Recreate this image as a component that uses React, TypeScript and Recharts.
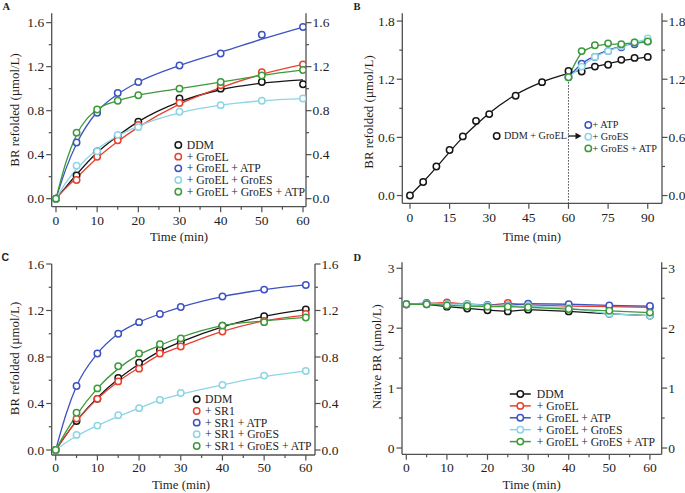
import React from 'react';
import { ComposedChart, Line, XAxis, YAxis, ReferenceLine } from 'recharts';

const FONT = '"Liberation Serif", "Times New Roman", serif';
const AXC = '#505050';
const TC = '#1e1e1e';
const BLACK = '#161616';
const RED = '#e9412f';
const BLUE = '#3e53c2';
const CYAN = '#8dd5e5';
const GREEN = '#3c9a3b';
const COLORS = [BLACK, RED, BLUE, CYAN, GREEN];

// ---------- Panel A ----------
const aTimes = [0, 5, 10, 15, 20, 30, 40, 50, 60];
const aDDM = [0, 0.21, 0.43, 0.57, 0.7, 0.91, 1.0, 1.06, 1.04];
const aGroEL = [0, 0.17, 0.38, 0.53, 0.67, 0.87, 1.03, 1.15, 1.22];
const aGroELATP = [0, 0.51, 0.78, 0.96, 1.06, 1.21, 1.32, 1.49, 1.56];
const aGroELGroES = [0, 0.3, 0.43, 0.58, 0.65, 0.79, 0.85, 0.89, 0.91];
const aGroELGroESATP = [0, 0.6, 0.81, 0.89, 0.94, 1.0, 1.06, 1.12, 1.17];
const aFitTimes = [0, 2.5, 5, 10, 15, 20, 30, 40, 50, 60];
const aFitDDM = [0, 0.11, 0.22, 0.42, 0.57, 0.7, 0.88, 0.99, 1.05, 1.08];
const aFitGroEL = [0, 0.1, 0.19, 0.37, 0.52, 0.65, 0.86, 1.01, 1.13, 1.22];
const aFitGroELATP = [0, 0.28, 0.5, 0.79, 0.95, 1.06, 1.21, 1.33, 1.45, 1.56];
const aFitGroELGroES = [0, 0.15, 0.27, 0.45, 0.57, 0.66, 0.78, 0.85, 0.89, 0.91];
const aFitGroELGroESATP = [0, 0.34, 0.58, 0.81, 0.89, 0.94, 1.0, 1.06, 1.12, 1.17];
const aLabels = ['DDM', '+ GroEL', '+ GroEL + ATP', '+ GroEL + GroES', '+ GroEL + GroES + ATP'];

// ---------- Panel B ----------
const bTimes = [0, 5, 10, 15, 20, 25, 30, 40, 50, 60, 65, 70, 75, 80, 85, 90];
const bDDMGroEL = [0, 0.14, 0.3, 0.47, 0.61, 0.77, 0.84, 1.03, 1.17, 1.285, 1.28, 1.33, 1.35, 1.4, 1.42, 1.43];
const bFitDDMGroEL = [0, 0.14, 0.29, 0.45, 0.6, 0.73, 0.85, 1.04, 1.17, 1.26, 1.3, 1.33, 1.36, 1.39, 1.41, 1.43];
const bAddTimes = [60, 65, 70, 75, 80, 85, 90];
const bATP = [1.22, 1.36, 1.43, 1.49, 1.53, 1.56, 1.59];
const bGroES = [1.22, 1.33, 1.43, 1.49, 1.54, 1.58, 1.62];
const bGroESATP = [1.22, 1.49, 1.55, 1.57, 1.56, 1.58, 1.59];
const bFitATP = [1.22, 1.36, 1.44, 1.5, 1.54, 1.57, 1.59];
const bFitGroES = [1.22, 1.33, 1.43, 1.49, 1.54, 1.58, 1.61];
const bFitGroESATP = [1.22, 1.47, 1.54, 1.56, 1.565, 1.575, 1.58];
const bLabels = ['+ ATP', '+ GroES', '+ GroES + ATP'];
const bBaseLabel = 'DDM + GroEL';

// ---------- Panel C ----------
const cTimes = [0, 5, 10, 15, 20, 25, 30, 40, 50, 60];
const cDDM = [0, 0.25, 0.44, 0.62, 0.75, 0.86, 0.93, 1.07, 1.15, 1.21];
const cSR1 = [0, 0.27, 0.44, 0.59, 0.7, 0.83, 0.89, 1.02, 1.11, 1.17];
const cSR1ATP = [0, 0.55, 0.83, 1.0, 1.1, 1.17, 1.23, 1.32, 1.38, 1.42];
const cSR1GroES = [0, 0.13, 0.21, 0.3, 0.36, 0.43, 0.49, 0.56, 0.64, 0.68];
const cSR1GroESATP = [0, 0.32, 0.53, 0.72, 0.83, 0.91, 0.96, 1.07, 1.1, 1.14];
const cFitTimes = [0, 2.5, 5, 10, 15, 20, 25, 30, 40, 50, 60];
const cFitDDM = [0, 0.13, 0.25, 0.45, 0.61, 0.74, 0.85, 0.93, 1.06, 1.15, 1.21];
const cFitSR1 = [0, 0.13, 0.25, 0.44, 0.59, 0.71, 0.82, 0.89, 1.02, 1.11, 1.16];
const cFitSR1ATP = [0, 0.31, 0.55, 0.83, 1.0, 1.1, 1.17, 1.23, 1.32, 1.38, 1.42];
const cFitSR1GroES = [0, 0.065, 0.12, 0.21, 0.29, 0.36, 0.43, 0.48, 0.56, 0.63, 0.68];
const cFitSR1GroESATP = [0, 0.16, 0.3, 0.53, 0.7, 0.82, 0.9, 0.97, 1.07, 1.11, 1.14];
const cLabels = ['DDM', '+ SR1', '+ SR1 + ATP', '+ SR1 + GroES', '+ SR1 + GroES + ATP'];

// ---------- Panel D ----------
const dTimes = [0, 5, 10, 15, 20, 25, 30, 40, 50, 60];
const dDDM = [2.4, 2.4, 2.36, 2.33, 2.3, 2.28, 2.31, 2.28, 2.24, 2.21];
const dGroEL = [2.4, 2.41, 2.43, 2.4, 2.38, 2.42, 2.39, 2.37, 2.36, 2.35];
const dGroELATP = [2.4, 2.42, 2.4, 2.4, 2.39, 2.38, 2.41, 2.4, 2.38, 2.37];
const dGroELGroES = [2.4, 2.41, 2.4, 2.4, 2.38, 2.37, 2.37, 2.34, 2.24, 2.21];
const dGroELGroESATP = [2.4, 2.4, 2.38, 2.37, 2.36, 2.36, 2.35, 2.32, 2.29, 2.26];
const dLabels = ['DDM', '+ GroEL', '+ GroEL + ATP', '+ GroEL + GroES', '+ GroEL + GroES + ATP'];

// ---------- ticks ----------
const tA_x = [0, 5, 10, 15, 20, 25, 30, 35, 40, 45, 50, 55, 60];
const tA_xMajor = [0, 10, 20, 30, 40, 50, 60];
const tA_y = [0, 0.2, 0.4, 0.6, 0.8, 1.0, 1.2, 1.4, 1.6];
const tA_yMajor = [0, 0.4, 0.8, 1.2, 1.6];
const tB_x = [0, 15, 30, 45, 60, 75, 90];
const tB_y = [0, 0.3, 0.6, 0.9, 1.2, 1.5, 1.8];
const tB_yMajor = [0, 0.6, 1.2, 1.8];
const tD_y = [0, 0.5, 1, 1.5, 2, 2.5, 3];
const tD_yMajor = [0, 1, 2, 3];

type Row = { t: number; [k: string]: number };
function buildRows(groups: { times: number[]; series: Record<string, number[]> }[]): Row[] {
  const map = new Map<number, Row>();
  groups.forEach((g) => {
    g.times.forEach((t, i) => {
      const r: Row = map.get(t) ?? { t };
      Object.keys(g.series).forEach((k) => {
        const v = g.series[k][i];
        if (v !== undefined && v !== null) r[k] = v;
      });
      map.set(t, r);
    });
  });
  return Array.from(map.values()).sort((a, b) => a.t - b.t);
}

const rowsA = buildRows([
  { times: aTimes, series: { p0: aDDM, p1: aGroEL, p2: aGroELATP, p3: aGroELGroES, p4: aGroELGroESATP } },
  { times: aFitTimes, series: { f0: aFitDDM, f1: aFitGroEL, f2: aFitGroELATP, f3: aFitGroELGroES, f4: aFitGroELGroESATP } },
]);
const rowsB = buildRows([
  { times: bTimes, series: { p0: bDDMGroEL, f0: bFitDDMGroEL } },
  { times: bAddTimes, series: { p2: bATP, p3: bGroES, p4: bGroESATP, f2: bFitATP, f3: bFitGroES, f4: bFitGroESATP } },
]);
const rowsC = buildRows([
  { times: cTimes, series: { p0: cDDM, p1: cSR1, p2: cSR1ATP, p3: cSR1GroES, p4: cSR1GroESATP } },
  { times: cFitTimes, series: { f0: cFitDDM, f1: cFitSR1, f2: cFitSR1ATP, f3: cFitSR1GroES, f4: cFitSR1GroESATP } },
]);
const rowsD = buildRows([
  { times: dTimes, series: { p0: dDDM, p1: dGroEL, p2: dGroELATP, p3: dGroELGroES, p4: dGroELGroESATP } },
]);

const isMaj = (m: number[], v: number) => m.some((x) => Math.abs(x - v) < 1e-6);
const TICK_FS = 13.5;

function leftTick(majors: number[], fmt: (v: number) => string) {
  return (p: any) => {
    const v = p.payload.value;
    const maj = isMaj(majors, v);
    const len = maj ? 5.5 : 3;
    return (
      <g>
        <line x1={p.x} x2={p.x - len} y1={p.y} y2={p.y} stroke={AXC} strokeWidth={1.2} />
        {maj && (
          <text x={p.x - 7.5} y={p.y} dy="0.34em" textAnchor="end" fontFamily={FONT} fontSize={TICK_FS} fill={TC}>
            {fmt(v)}
          </text>
        )}
      </g>
    );
  };
}
function rightTick(majors: number[], fmt: (v: number) => string) {
  return (p: any) => {
    const v = p.payload.value;
    const maj = isMaj(majors, v);
    const len = maj ? 5.5 : 3;
    return (
      <g>
        <line x1={p.x} x2={p.x + len} y1={p.y} y2={p.y} stroke={AXC} strokeWidth={1.2} />
        {maj && (
          <text x={p.x + 6.5} y={p.y} dy="0.34em" textAnchor="start" fontFamily={FONT} fontSize={TICK_FS} fill={TC}>
            {fmt(v)}
          </text>
        )}
      </g>
    );
  };
}
function bottomTick(majors: number[], dy: number) {
  return (p: any) => {
    const v = p.payload.value;
    const maj = isMaj(majors, v);
    const len = maj ? 5.5 : 3;
    return (
      <g>
        <line x1={p.x} x2={p.x} y1={p.y} y2={p.y + len} stroke={AXC} strokeWidth={1.2} />
        {maj && (
          <text x={p.x} y={p.y + dy} dy="0.34em" textAnchor="middle" fontFamily={FONT} fontSize={TICK_FS} fill={TC}>
            {String(v)}
          </text>
        )}
      </g>
    );
  };
}

const f1 = (v: number) => v.toFixed(1);
const f0 = (v: number) => String(v);

interface PanelProps {
  left: number; top: number; width: number; height: number;
  plotL: number; plotR: number; plotT: number; plotB: number;
  rows: Row[];
  xDomain: [number, number]; yDomain: [number, number];
  xTicks: number[]; xMajor: number[];
  yTicks: number[]; yMajor: number[]; yFmt: (v: number) => string;
  idx: number[];
  fits: boolean;
  linePoints?: boolean;
  labelDy: number;
  children?: React.ReactNode;
}

function Panel(p: PanelProps) {
  return (
    <div style={{ position: 'absolute', left: p.left, top: p.top, width: p.width, height: p.height }}>
      <ComposedChart
        width={p.width}
        height={p.height}
        data={p.rows}
        margin={{ top: p.plotT, right: 0, bottom: 0, left: 0 }}
      >
        <XAxis
          dataKey="t" type="number" domain={p.xDomain} allowDataOverflow ticks={p.xTicks} interval={0}
          height={p.height - p.plotB} tickLine={false} tickSize={0} tickMargin={0}
          axisLine={{ stroke: AXC, strokeWidth: 1.3 }} tick={bottomTick(p.xMajor, p.labelDy)}
        />
        <XAxis
          xAxisId="top" orientation="top" dataKey="t" type="number" domain={p.xDomain} allowDataOverflow
          height={0} tick={false} tickLine={false} axisLine={{ stroke: AXC, strokeWidth: 1.3 }}
        />
        <YAxis
          type="number" domain={p.yDomain} allowDataOverflow ticks={p.yTicks} interval={0}
          width={p.plotL} tickLine={false} tickSize={0} tickMargin={0}
          axisLine={{ stroke: AXC, strokeWidth: 1.3 }} tick={leftTick(p.yMajor, p.yFmt)}
        />
        <YAxis
          yAxisId="right" orientation="right" type="number" domain={p.yDomain} allowDataOverflow ticks={p.yTicks} interval={0}
          width={p.width - p.plotR} tickLine={false} tickSize={0} tickMargin={0}
          axisLine={{ stroke: AXC, strokeWidth: 1.3 }} tick={rightTick(p.yMajor, p.yFmt)}
        />
        {p.children}
        {p.fits &&
          p.idx.map((i) => (
            <Line
              key={'f' + i} dataKey={'f' + i} type="monotone" stroke={COLORS[i]} strokeWidth={1.3}
              dot={false} activeDot={false} connectNulls isAnimationActive={false} legendType="none"
            />
          ))}
        {p.idx.map((i) => (
          <Line
            key={'p' + i} dataKey={'p' + i} type="linear"
            stroke={p.linePoints ? COLORS[i] : 'none'} strokeWidth={1.3}
            dot={{ r: 3.2, stroke: COLORS[i], strokeWidth: 1.5, fill: '#ffffff' }}
            activeDot={false} connectNulls isAnimationActive={false}
          />
        ))}
      </ComposedChart>
    </div>
  );
}

const txt = { fontFamily: FONT, fill: TC } as const;

function Legend5({ x, y, step, labels, line }: { x: number; y: number; step: number; labels: string[]; line?: boolean }) {
  return (
    <g>
      {labels.map((lab, i) => {
        const cy = y + i * step;
        return (
          <g key={lab}>
            {line && <line x1={x - 10.5} x2={x + 10.5} y1={cy} y2={cy} stroke={COLORS[i]} strokeWidth={1.5} />}
            <circle cx={x} cy={cy} r={3.2} stroke={COLORS[i]} strokeWidth={1.5} fill="#fff" />
            <text x={x + (line ? 16.4 : 8.4)} y={cy} dy="0.34em" fontSize={11.7} {...txt}>{lab}</text>
          </g>
        );
      })}
    </g>
  );
}

export default function App() {
  const yTitle = 'BR refolded (µmol/L)';
  return (
    <div style={{ position: 'absolute', left: 0, top: 0, width: 685, height: 493, background: '#fff', overflow: 'hidden' }}>
      <Panel
        left={0} top={0} width={345} height={245} plotL={51.7} plotR={306} plotT={13.3} plotB={206.7}
        rows={rowsA} xDomain={[-1.04, 60.73]} yDomain={[-0.073, 1.685]}
        xTicks={tA_x} xMajor={tA_xMajor} yTicks={tA_y} yMajor={tA_yMajor} yFmt={f1}
        idx={[0, 1, 2, 3, 4]} fits labelDy={13.3}
      />
      <Panel
        left={345} top={0} width={340} height={245} plotL={57.3} plotR={317} plotT={13.3} plotB={203.3}
        rows={rowsB} xDomain={[-2.9, 95.4]} yDomain={[-0.08, 1.88]}
        xTicks={tB_x} xMajor={tB_x} yTicks={tB_y} yMajor={tB_yMajor} yFmt={f1}
        idx={[0, 2, 3, 4]} fits labelDy={14.5}
      >
        <ReferenceLine
          segment={[{ x: 60, y: 1.17 }, { x: 60, y: -0.08 }]}
          stroke="#333" strokeWidth={0.9} strokeDasharray="1.5 1.5" ifOverflow="visible"
        />
      </Panel>
      <Panel
        left={0} top={245} width={345} height={248} plotL={51.7} plotR={315} plotT={19} plotB={210}
        rows={rowsC} xDomain={[-0.96, 62.2]} yDomain={[-0.043, 1.6]}
        xTicks={tA_x} xMajor={tA_xMajor} yTicks={tA_y} yMajor={tA_yMajor} yFmt={f1}
        idx={[0, 1, 2, 3, 4]} fits labelDy={12}
      />
      <Panel
        left={345} top={245} width={340} height={248} plotL={57} plotR={316.7} plotT={17.3} plotB={209.3}
        rows={rowsD} xDomain={[-1.06, 62.9]} yDomain={[-0.105, 3.1]}
        xTicks={tA_x} xMajor={tA_xMajor} yTicks={tD_y} yMajor={tD_yMajor} yFmt={f0}
        idx={[0, 1, 2, 3, 4]} fits={false} linePoints labelDy={13.3}
      />
      <svg width={685} height={493} style={{ position: 'absolute', left: 0, top: 0, pointerEvents: 'none' }}>
        {/* panel letters */}
        <text x={2.5} y={10} fontSize={10.5} fontWeight="bold" {...txt}>A</text>
        <text x={353.5} y={10} fontSize={10.5} fontWeight="bold" {...txt}>B</text>
        <text x={1.5} y={261} fontSize={10.5} fontWeight="bold" fontFamily='"Liberation Sans", Arial, sans-serif' fill={TC}>C</text>
        <text x={353.5} y={261} fontSize={10.5} fontWeight="bold" {...txt}>D</text>

        {/* axis titles */}
        <text x={179} y={236.5} dy="0.34em" textAnchor="middle" fontSize={12.8} {...txt}>Time (min)</text>
        <text x={532} y={236.5} dy="0.34em" textAnchor="middle" fontSize={12.8} {...txt}>Time (min)</text>
        <text x={181} y={485} dy="0.34em" textAnchor="middle" fontSize={12.8} {...txt}>Time (min)</text>
        <text x={531.7} y={485} dy="0.34em" textAnchor="middle" fontSize={12.8} {...txt}>Time (min)</text>
        <text transform="translate(15,110) rotate(-90)" dy="0.34em" textAnchor="middle" fontSize={12.8} {...txt}>{yTitle}</text>
        <text transform="translate(368.3,112) rotate(-90)" dy="0.34em" textAnchor="middle" fontSize={12.8} {...txt}>{yTitle}</text>
        <text transform="translate(15,358.5) rotate(-90)" dy="0.34em" textAnchor="middle" fontSize={12.8} {...txt}>{yTitle}</text>
        <text transform="translate(376.7,356.5) rotate(-90)" dy="0.34em" textAnchor="middle" fontSize={12.8} {...txt}>Native BR (µmol/L)</text>

        {/* legends */}
        <Legend5 x={178.3} y={145} step={11.67} labels={aLabels} />
        <Legend5 x={196.7} y={399.3} step={11.67} labels={cLabels} />
        <Legend5 x={520.3} y={394} step={11.9} labels={dLabels} line />

        {/* panel B annotation */}
        <circle cx={496.7} cy={136} r={3.2} stroke={BLACK} strokeWidth={1.5} fill="#fff" />
        <text x={504} y={136} dy="0.34em" fontSize={10.2} {...txt}>{bBaseLabel}</text>
        <line x1={568.3} x2={576.5} y1={136} y2={136} stroke={BLACK} strokeWidth={1.3} />
        <path d="M575.5,132.8 L581.5,136 L575.5,139.2 Z" fill={BLACK} />
        {bLabels.map((lab, i) => {
          const cy = 125 + i * 11.7;
          const col = [BLUE, CYAN, GREEN][i];
          return (
            <g key={lab}>
              <circle cx={588.3} cy={cy} r={3.2} stroke={col} strokeWidth={1.5} fill="#fff" />
              <text x={592.5} y={cy} dy="0.34em" fontSize={10.2} {...txt}>{lab}</text>
            </g>
          );
        })}
      </svg>
    </div>
  );
}
